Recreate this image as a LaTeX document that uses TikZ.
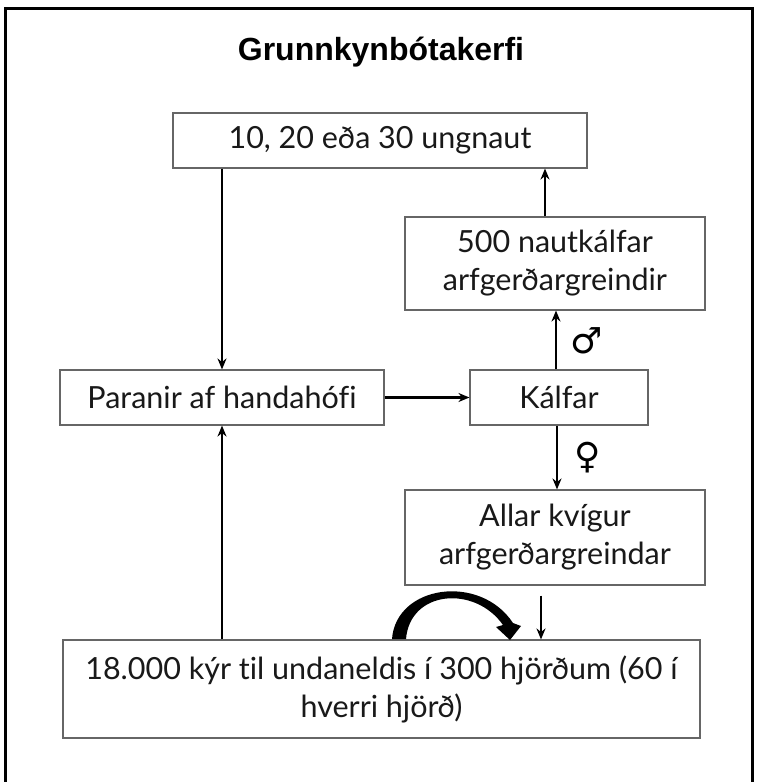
\documentclass[tikz,border=0pt]{standalone}
\usepackage{fontspec}
\setmainfont{Lato}[Ligatures={NoCommon}]
\newfontfamily\titlefont{Liberation Sans}
\newfontfamily\symfont{DejaVu Sans}
\usetikzlibrary{arrows.meta,calc}
\begin{document}
\begin{tikzpicture}[x=1pt,y=1pt,
  box/.style={draw=black!60, line width=1.1pt, fill=white, align=center,
    inner sep=0pt, font=\fontsize{30.5}{38}\selectfont, text=black!90},
  arr/.style={line width=2.2pt, -{Stealth[length=11pt,width=9pt]}},
  sym/.style={font=\symfont\fontsize{36}{38}\selectfont, inner sep=0pt}]
\useasboundingbox (0,0) rectangle (757,-782);
\fill[white] (0,0) rectangle (757,-782);
\draw[line width=3pt] (5,-8) rectangle (752,-800);
\node[font=\titlefont\bfseries\fontsize{32}{34}\selectfont] (title) at (381,-52) {Grunnkynbótakerfi};
\node[box, minimum width=414pt, minimum height=55pt] (b1) at (380,-140.5) {10, 20 eða 30 ungnaut};
\node[box, minimum width=300pt, minimum height=93pt] (b2) at (555,-263.5) {500 nautkálfar\\arfgerðargreindir};
\node[box, minimum width=324pt, minimum height=55pt] (par) at (222,-397.5) {Paranir af handahófi};
\node[box, minimum width=178pt, minimum height=55pt] (kal) at (559,-397.5) {Kálfar};
\node[box, minimum width=300pt, minimum height=95pt] (all) at (555,-537.5) {Allar kvígur\\arfgerðargreindar};
\node[box, minimum width=637pt, minimum height=98pt] (bot) at (381.5,-689) {18.000 kýr til undaneldis í 300 hjörðum (60 í\\hverri hjörð)};
\draw[arr] ([xshift=-10pt]b2.north) -- ([xshift=-10pt]b2.north |- b1.south);
\draw[arr] (par.north |- b1.south) -- (par.north);
\draw[arr] (par.east) -- (kal.west);
\draw[arr] ([xshift=-3pt]kal.north) -- ([xshift=-3pt]kal.north |- b2.south);
\draw[arr] ([xshift=-2pt]kal.south) -- ([xshift=-2pt]kal.south |- all.north);
\draw[arr] ([xshift=-14pt,yshift=-10pt]all.south) -- ([xshift=-14pt]all.south |- bot.north);
\draw[arr] (par.south |- bot.north) -- (par.south);
\node[sym] (male) at (587,-341) {♂};
\node[sym] (female) at (588,-458) {♀};
\fill (392,-639) .. controls (396,-585) and (480,-573) .. (513,-623)
  -- (521,-626) -- (510,-640) -- (496,-627) -- (503,-625)
  .. controls (475,-585) and (410,-590) .. (406,-639) -- cycle;
\end{tikzpicture}
\end{document}
